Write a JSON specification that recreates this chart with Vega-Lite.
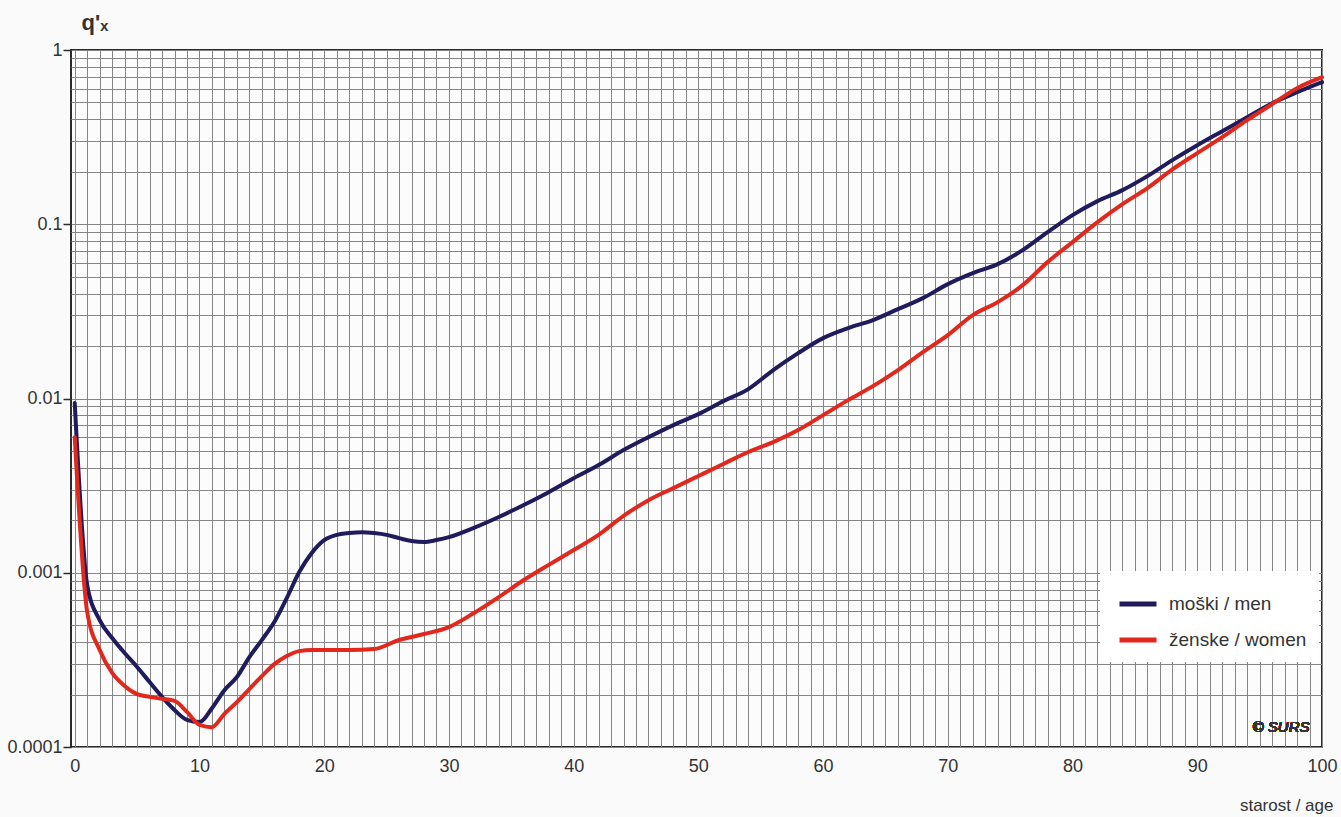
{
  "$schema": "https://vega.github.io/schema/vega-lite/v6.json",
  "width": 1251,
  "height": 697,
  "autosize": {"type": "none"},
  "padding": {"left": 71, "top": 50, "right": 19, "bottom": 70},
  "background": "#fafafa",
  "config": {
    "font": "Liberation Sans, Arial, sans-serif",
    "view": {"stroke": "#2a2a2a", "strokeWidth": 2, "fill": "#fcfcfc"}
  },
  "data": {
    "values": [
      {"age": 0, "sex": "moški / men", "q": 0.00941},
      {"age": 1, "sex": "moški / men", "q": 0.00085},
      {"age": 2, "sex": "moški / men", "q": 0.000535},
      {"age": 3, "sex": "moški / men", "q": 0.000422},
      {"age": 4, "sex": "moški / men", "q": 0.000346},
      {"age": 5, "sex": "moški / men", "q": 0.000288},
      {"age": 6, "sex": "moški / men", "q": 0.000236},
      {"age": 7, "sex": "moški / men", "q": 0.000194},
      {"age": 8, "sex": "moški / men", "q": 0.000163},
      {"age": 9, "sex": "moški / men", "q": 0.000143},
      {"age": 10, "sex": "moški / men", "q": 0.000139},
      {"age": 11, "sex": "moški / men", "q": 0.000167},
      {"age": 12, "sex": "moški / men", "q": 0.000212},
      {"age": 13, "sex": "moški / men", "q": 0.000252},
      {"age": 14, "sex": "moški / men", "q": 0.000328},
      {"age": 15, "sex": "moški / men", "q": 0.000411},
      {"age": 16, "sex": "moški / men", "q": 0.000521},
      {"age": 17, "sex": "moški / men", "q": 0.000716},
      {"age": 18, "sex": "moški / men", "q": 0.00101},
      {"age": 19, "sex": "moški / men", "q": 0.0013},
      {"age": 20, "sex": "moški / men", "q": 0.00154},
      {"age": 21, "sex": "moški / men", "q": 0.00165},
      {"age": 22, "sex": "moški / men", "q": 0.00169},
      {"age": 23, "sex": "moški / men", "q": 0.00171},
      {"age": 24, "sex": "moški / men", "q": 0.00169},
      {"age": 25, "sex": "moški / men", "q": 0.00165},
      {"age": 26, "sex": "moški / men", "q": 0.00158},
      {"age": 27, "sex": "moški / men", "q": 0.00152},
      {"age": 28, "sex": "moški / men", "q": 0.0015},
      {"age": 29, "sex": "moški / men", "q": 0.00154},
      {"age": 30, "sex": "moški / men", "q": 0.0016},
      {"age": 32, "sex": "moški / men", "q": 0.00181},
      {"age": 34, "sex": "moški / men", "q": 0.00209},
      {"age": 36, "sex": "moški / men", "q": 0.00245},
      {"age": 38, "sex": "moški / men", "q": 0.0029},
      {"age": 40, "sex": "moški / men", "q": 0.00349},
      {"age": 42, "sex": "moški / men", "q": 0.00415},
      {"age": 44, "sex": "moški / men", "q": 0.00506},
      {"age": 46, "sex": "moški / men", "q": 0.006},
      {"age": 48, "sex": "moški / men", "q": 0.00704},
      {"age": 50, "sex": "moški / men", "q": 0.00814},
      {"age": 52, "sex": "moški / men", "q": 0.00966},
      {"age": 54, "sex": "moški / men", "q": 0.01132},
      {"age": 56, "sex": "moški / men", "q": 0.01455},
      {"age": 58, "sex": "moški / men", "q": 0.01822},
      {"age": 60, "sex": "moški / men", "q": 0.02221},
      {"age": 62, "sex": "moški / men", "q": 0.02535},
      {"age": 64, "sex": "moški / men", "q": 0.02818},
      {"age": 66, "sex": "moški / men", "q": 0.03258},
      {"age": 68, "sex": "moški / men", "q": 0.03767},
      {"age": 70, "sex": "moški / men", "q": 0.04533},
      {"age": 72, "sex": "moški / men", "q": 0.05241},
      {"age": 74, "sex": "moški / men", "q": 0.05904},
      {"age": 76, "sex": "moški / men", "q": 0.07101},
      {"age": 78, "sex": "moški / men", "q": 0.09009},
      {"age": 80, "sex": "moški / men", "q": 0.1128},
      {"age": 82, "sex": "moški / men", "q": 0.1357},
      {"age": 84, "sex": "moški / men", "q": 0.1569},
      {"age": 86, "sex": "moški / men", "q": 0.1888},
      {"age": 88, "sex": "moški / men", "q": 0.2333},
      {"age": 90, "sex": "moški / men", "q": 0.2843},
      {"age": 92, "sex": "moški / men", "q": 0.3421},
      {"age": 94, "sex": "moški / men", "q": 0.4116},
      {"age": 96, "sex": "moški / men", "q": 0.4952},
      {"age": 98, "sex": "moški / men", "q": 0.5726},
      {"age": 100, "sex": "moški / men", "q": 0.6537},
      {"age": 0, "sex": "ženske / women", "q": 0.006},
      {"age": 1, "sex": "ženske / women", "q": 0.000595},
      {"age": 2, "sex": "ženske / women", "q": 0.00036},
      {"age": 3, "sex": "ženske / women", "q": 0.000266},
      {"age": 4, "sex": "ženske / women", "q": 0.000224},
      {"age": 5, "sex": "ženske / women", "q": 0.000201},
      {"age": 6, "sex": "ženske / women", "q": 0.000194},
      {"age": 7, "sex": "ženske / women", "q": 0.000189},
      {"age": 8, "sex": "ženske / women", "q": 0.000184},
      {"age": 9, "sex": "ženske / women", "q": 0.000159},
      {"age": 10, "sex": "ženske / women", "q": 0.000134},
      {"age": 11, "sex": "ženske / women", "q": 0.00013},
      {"age": 12, "sex": "ženske / women", "q": 0.000155},
      {"age": 13, "sex": "ženske / women", "q": 0.000181},
      {"age": 14, "sex": "ženske / women", "q": 0.000215},
      {"age": 15, "sex": "ženske / women", "q": 0.000255},
      {"age": 16, "sex": "ženske / women", "q": 0.000299},
      {"age": 17, "sex": "ženske / women", "q": 0.000333},
      {"age": 18, "sex": "ženske / women", "q": 0.000355},
      {"age": 19, "sex": "ženske / women", "q": 0.00036},
      {"age": 20, "sex": "ženske / women", "q": 0.00036},
      {"age": 22, "sex": "ženske / women", "q": 0.00036},
      {"age": 24, "sex": "ženske / women", "q": 0.000365},
      {"age": 26, "sex": "ženske / women", "q": 0.000411},
      {"age": 28, "sex": "ženske / women", "q": 0.000445},
      {"age": 30, "sex": "ženske / women", "q": 0.000488},
      {"age": 32, "sex": "ženske / women", "q": 0.000587},
      {"age": 34, "sex": "ženske / women", "q": 0.000725},
      {"age": 36, "sex": "ženske / women", "q": 0.000908},
      {"age": 38, "sex": "ženske / women", "q": 0.00111},
      {"age": 40, "sex": "ženske / women", "q": 0.00135},
      {"age": 42, "sex": "ženske / women", "q": 0.00165},
      {"age": 44, "sex": "ženske / women", "q": 0.00212},
      {"age": 46, "sex": "ženske / women", "q": 0.00261},
      {"age": 48, "sex": "ženske / women", "q": 0.00306},
      {"age": 50, "sex": "ženske / women", "q": 0.00359},
      {"age": 52, "sex": "ženske / women", "q": 0.00421},
      {"age": 54, "sex": "ženske / women", "q": 0.00493},
      {"age": 56, "sex": "ženske / women", "q": 0.00562},
      {"age": 58, "sex": "ženske / women", "q": 0.00659},
      {"age": 60, "sex": "ženske / women", "q": 0.00803},
      {"age": 62, "sex": "ženske / women", "q": 0.00979},
      {"age": 64, "sex": "ženske / women", "q": 0.01178},
      {"age": 66, "sex": "ženske / women", "q": 0.01455},
      {"age": 68, "sex": "ženske / women", "q": 0.01846},
      {"age": 70, "sex": "ženske / women", "q": 0.02311},
      {"age": 72, "sex": "ženske / women", "q": 0.03009},
      {"age": 74, "sex": "ženske / women", "q": 0.03573},
      {"age": 76, "sex": "ženske / women", "q": 0.04473},
      {"age": 78, "sex": "ženske / women", "q": 0.06063},
      {"age": 80, "sex": "ženske / women", "q": 0.07895},
      {"age": 82, "sex": "ženske / women", "q": 0.1028},
      {"age": 84, "sex": "ženske / women", "q": 0.1304},
      {"age": 86, "sex": "ženske / women", "q": 0.1611},
      {"age": 88, "sex": "ženske / women", "q": 0.2065},
      {"age": 90, "sex": "ženske / women", "q": 0.256},
      {"age": 92, "sex": "ženske / women", "q": 0.3161},
      {"age": 94, "sex": "ženske / women", "q": 0.3956},
      {"age": 96, "sex": "ženske / women", "q": 0.4887},
      {"age": 98, "sex": "ženske / women", "q": 0.6038},
      {"age": 100, "sex": "ženske / women", "q": 0.6982}
    ]
  },
  "layer": [
    {
      "mark": {"type": "line", "interpolate": "monotone", "strokeWidth": 4, "strokeCap": "round", "strokeJoin": "round"},
      "encoding": {
        "x": {
          "field": "age", "type": "quantitative",
          "scale": {"domain": [-0.3, 100], "nice": false, "zero": false},
          "axis": {
            "values": [0,1,2,3,4,5,6,7,8,9,10,11,12,13,14,15,16,17,18,19,20,21,22,23,24,25,26,27,28,29,30,31,32,33,34,35,36,37,38,39,40,41,42,43,44,45,46,47,48,49,50,51,52,53,54,55,56,57,58,59,60,61,62,63,64,65,66,67,68,69,70,71,72,73,74,75,76,77,78,79,80,81,82,83,84,85,86,87,88,89,90,91,92,93,94,95,96,97,98,99,100],
            "tickCount": 500,
            "format": "d",
            "labelOverlap": false,
            "labelExpr": "datum.value % 10 === 0 ? datum.label : ''",
            "ticks": false,
            "domain": false,
            "grid": true,
            "gridColor": "#858585",
            "gridWidth": 1,
            "labelFontSize": 18,
            "labelColor": "#333333",
            "labelPadding": 10,
            "labelFlush": false,
            "title": "starost / age",
            "titleFontSize": 17,
            "titleFontWeight": "normal",
            "titleColor": "#333333",
            "titleAnchor": "end",
            "titleAlign": "right",
            "titleBaseline": "middle",
            "titleX": 1262,
            "titleY": 58
          }
        },
        "y": {
          "field": "q", "type": "quantitative",
          "scale": {"type": "log", "domain": [0.0001, 1], "nice": false},
          "axis": {
            "values": [0.0001,0.0002,0.0003,0.0004,0.0005,0.0006,0.0007,0.0008,0.0009,0.001,0.002,0.003,0.004,0.005,0.006,0.007,0.008,0.009,0.01,0.02,0.03,0.04,0.05,0.06,0.07,0.08,0.09,0.1,0.2,0.3,0.4,0.5,0.6,0.7,0.8,0.9,1],
            "tickCount": 500,
            "labelOverlap": false,
            "format": "~g",
            "labelExpr": "(datum.value == 1 || datum.value == 0.1 || datum.value == 0.01 || datum.value == 0.001 || datum.value == 0.0001) ? datum.label : ''",
            "tickOpacity": {"condition": {"test": "datum.value == 1 || datum.value == 0.1 || datum.value == 0.01 || datum.value == 0.001 || datum.value == 0.0001", "value": 1}, "value": 0},
            "tickSize": 8,
            "tickColor": "#2a2a2a",
            "tickWidth": 1.5,
            "domain": false,
            "grid": true,
            "gridColor": "#858585",
            "gridWidth": 1,
            "labelFontSize": 18,
            "labelColor": "#333333",
            "labelPadding": 1,
            "title": "q'ₓ",
            "titleAngle": 0,
            "titleAlign": "left",
            "titleBaseline": "middle",
            "titleX": 10,
            "titleY": -28,
            "titleFontSize": 22,
            "titleFontWeight": "bold",
            "titleColor": "#333333"
          }
        },
        "color": {
          "field": "sex", "type": "nominal",
          "scale": {"domain": ["moški / men", "ženske / women"], "range": ["#1f1b5c", "#e2271d"]},
          "legend": {
            "title": null,
            "orient": "none",
            "legendX": 1029,
            "legendY": 521,
            "fillColor": "#ffffff",
            "padding": 12,
            "symbolType": "stroke",
            "symbolSize": 1369,
            "symbolStrokeWidth": 5,
            "symbolOffset": 5,
            "labelFontSize": 19,
            "labelColor": "#333333",
            "labelOffset": 10,
            "rowPadding": 5
          }
        }
      }
    },
    {
      "mark": {"type": "text", "text": "© SURS", "align": "right", "baseline": "middle", "fontSize": 15, "fontStyle": "italic", "color": "#333333"},
      "encoding": {
        "x": {"datum": 99},
        "y": {"datum": 0.00013}
      }
    }
  ]
}
